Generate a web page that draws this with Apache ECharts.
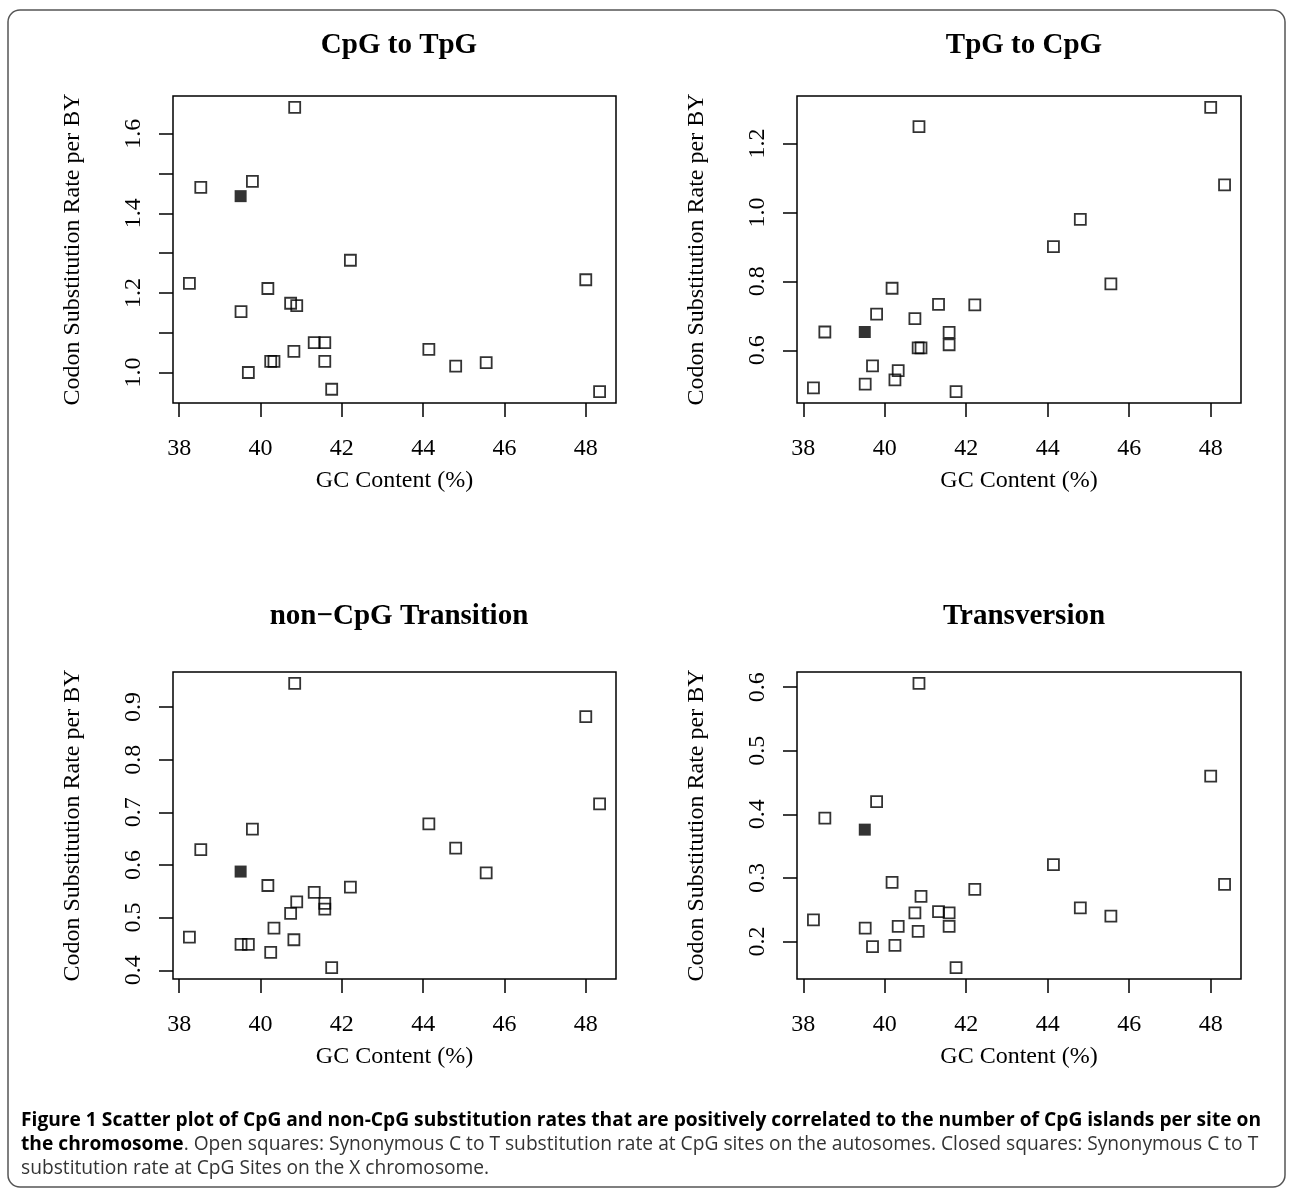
<!DOCTYPE html>
<html>
<head>
<meta charset="utf-8">
<title>CpG and non-CpG substitution rates vs GC content</title>
<script src="https://cdn.jsdelivr.net/npm/echarts@6.0.0/dist/echarts.min.js"></script>
<style>
  body { margin: 0; background: #fff; }
  #main { width: 1292px; height: 1191px; }
</style>
</head>
<body>
<div id="main"></div>
<script type="text/javascript">
// GC content (%) of the autosomes (open squares) and of the X chromosome (closed square)
var gcAutosome = [38.25, 38.53, 39.52, 39.70, 39.80, 40.18, 40.25, 40.33, 40.74, 40.82, 40.84,
                  40.89, 41.32, 41.58, 41.58, 41.75, 42.21, 44.14, 44.80, 45.55, 48.00, 48.34];
var gcX = 39.51;

// codon substitution rate per BY, one list per panel, same order as gcAutosome
var cpgToTpg = [1.224, 1.465, 1.153, 1.000, 1.480, 1.211, 1.028, 1.028, 1.174, 1.053, 1.666,
                1.168, 1.075, 1.075, 1.028, 0.958, 1.282, 1.058, 1.016, 1.025, 1.233, 0.952];
var tpgToCpg = [0.491, 0.653, 0.502, 0.555, 0.705, 0.780, 0.514, 0.541, 0.692, 0.607, 1.249,
                0.607, 0.733, 0.652, 0.616, 0.480, 0.732, 0.901, 0.980, 0.793, 1.305, 1.080];
var nonCpgTransition = [0.463, 0.629, 0.449, 0.449, 0.668, 0.561, 0.434, 0.480, 0.508, 0.458, 0.945,
                        0.530, 0.548, 0.527, 0.516, 0.405, 0.558, 0.678, 0.632, 0.585, 0.882, 0.716];
var transversion = [0.234, 0.394, 0.221, 0.192, 0.420, 0.293, 0.194, 0.224, 0.245, 0.216, 0.606,
                    0.271, 0.247, 0.245, 0.224, 0.159, 0.282, 0.321, 0.253, 0.240, 0.460, 0.290];
// X chromosome values per panel
var xChromRates = [1.443, 0.653, 0.5875, 0.376];

var panelTitles = ['CpG to TpG', 'TpG to CpG', 'non\u2212CpG Transition', 'Transversion'];
var xTicks = [38, 40, 42, 44, 46, 48];
var yTicks = [
  [1.0, 1.1, 1.2, 1.3, 1.4, 1.5, 1.6],
  [0.6, 0.8, 1.0, 1.2],
  [0.4, 0.5, 0.6, 0.7, 0.8, 0.9],
  [0.2, 0.3, 0.4, 0.5, 0.6]
];
var yTickLabels = [
  [1.0, 1.2, 1.4, 1.6],
  [0.6, 0.8, 1.0, 1.2],
  [0.4, 0.5, 0.6, 0.7, 0.8, 0.9],
  [0.2, 0.3, 0.4, 0.5, 0.6]
];

var panelRates = [cpgToTpg, tpgToCpg, nonCpgTransition, transversion];

var serif = 'Liberation Serif, Times New Roman, serif';
var gridBoxes = [
  { left: 173, top: 96, width: 443, height: 307 },
  { left: 797, top: 96, width: 444, height: 307 },
  { left: 173, top: 672, width: 443, height: 307 },
  { left: 797, top: 672, width: 444, height: 307 }
];
var titlePos = [[394, 26], [1019, 26], [394, 597], [1019, 597]];

// R style range: data range padded by 4% on each side
function padRange(vals) {
  var lo = Math.min.apply(null, vals), hi = Math.max.apply(null, vals);
  var d = (hi - lo) * 0.04;
  return [lo - d, hi + d];
}

var myChart = echarts.init(document.getElementById('main'));

var grids = [], xAxes = [], yAxes = [], series = [], titles = [];
var xRange = padRange(gcAutosome.concat([gcX]));

for (var i = 0; i < 4; i++) {
  var g = gridBoxes[i];
  grids.push({
    left: g.left, top: g.top, width: g.width, height: g.height,
    show: true, borderColor: '#000', borderWidth: 1.5,
    outerBoundsMode: 'none', containLabel: false
  });
  titles.push({
    text: panelTitles[i],
    left: titlePos[i][0], top: titlePos[i][1], textAlign: 'center',
    textStyle: { fontFamily: serif, fontWeight: 'bold', fontSize: 29, color: '#000' }
  });
  xAxes.push({
    type: 'value', gridIndex: i,
    min: xRange[0], max: xRange[1],
    name: 'GC Content (%)', nameLocation: 'middle', nameGap: 66,
    nameTextStyle: { fontFamily: serif, fontSize: 24, color: '#000' },
    axisLine: { show: false },
    splitLine: { show: false },
    axisTick: { show: true, length: 14, customValues: xTicks, lineStyle: { color: '#000', width: 1.5 } },
    axisLabel: { customValues: xTicks, margin: 34, fontFamily: serif, fontSize: 24, color: '#000' }
  });
  var yRange = padRange(panelRates[i].concat([xChromRates[i]]));
  yAxes.push({
    type: 'value', gridIndex: i,
    min: yRange[0], max: yRange[1],
    name: 'Codon Substitution Rate per BY', nameLocation: 'middle', nameGap: 88, nameRotate: 90,
    nameTextStyle: { fontFamily: serif, fontSize: 24, color: '#000' },
    axisLine: { show: false },
    splitLine: { show: false },
    axisTick: { show: true, length: 14, customValues: yTicks[i], lineStyle: { color: '#000', width: 1.5 } },
    axisLabel: {
      customValues: yTickLabels[i], rotate: 90, margin: 27,
      fontFamily: serif, fontSize: 24, color: '#000',
      formatter: function (v) { return Number(v).toFixed(1); }
    }
  });
  series.push({
    type: 'scatter', xAxisIndex: i, yAxisIndex: i,
    symbol: 'rect', symbolSize: 11,
    itemStyle: { color: 'rgba(0,0,0,0)', borderColor: '#000', borderWidth: 1.8 },
    emphasis: { disabled: true },
    data: gcAutosome.map(function (x, k) { return [x, panelRates[i][k]]; })
  });
  series.push({
    type: 'scatter', xAxisIndex: i, yAxisIndex: i,
    symbol: 'rect', symbolSize: 12,
    itemStyle: { color: '#000' },
    emphasis: { disabled: true },
    data: [[gcX, xChromRates[i]]]
  });
}

var caption =
  '{b|Figure 1 Scatter plot of CpG and non-CpG substitution rates that are positively correlated to the number of CpG islands per site on}\n' +
  '{b|the chromosome}{r|. Open squares: Synonymous C to T substitution rate at CpG sites on the autosomes. Closed squares: Synonymous C to T}\n' +
  '{r|substitution rate at CpG Sites on the X chromosome.}';

option = {
  animation: false,
  backgroundColor: '#fff',
  title: titles,
  grid: grids,
  xAxis: xAxes,
  yAxis: yAxes,
  series: series,
  graphic: [
    {
      type: 'rect', silent: true,
      shape: { x: 8, y: 10, width: 1277, height: 1177, r: 12 },
      style: { fill: 'none', stroke: '#555', lineWidth: 1.5 }
    },
    {
      type: 'text', left: 21, top: 1111, silent: true,
      style: {
        text: caption,
        rich: {
          b: { fontFamily: 'Open Sans', fontWeight: 'bold', fontSize: 19.2, fill: '#000', lineHeight: 24 },
          r: { fontFamily: 'Open Sans', fontSize: 19.2, fill: '#333', lineHeight: 24 }
        }
      }
    }
  ]
};
myChart.setOption(option);
</script>
</body>
</html>
